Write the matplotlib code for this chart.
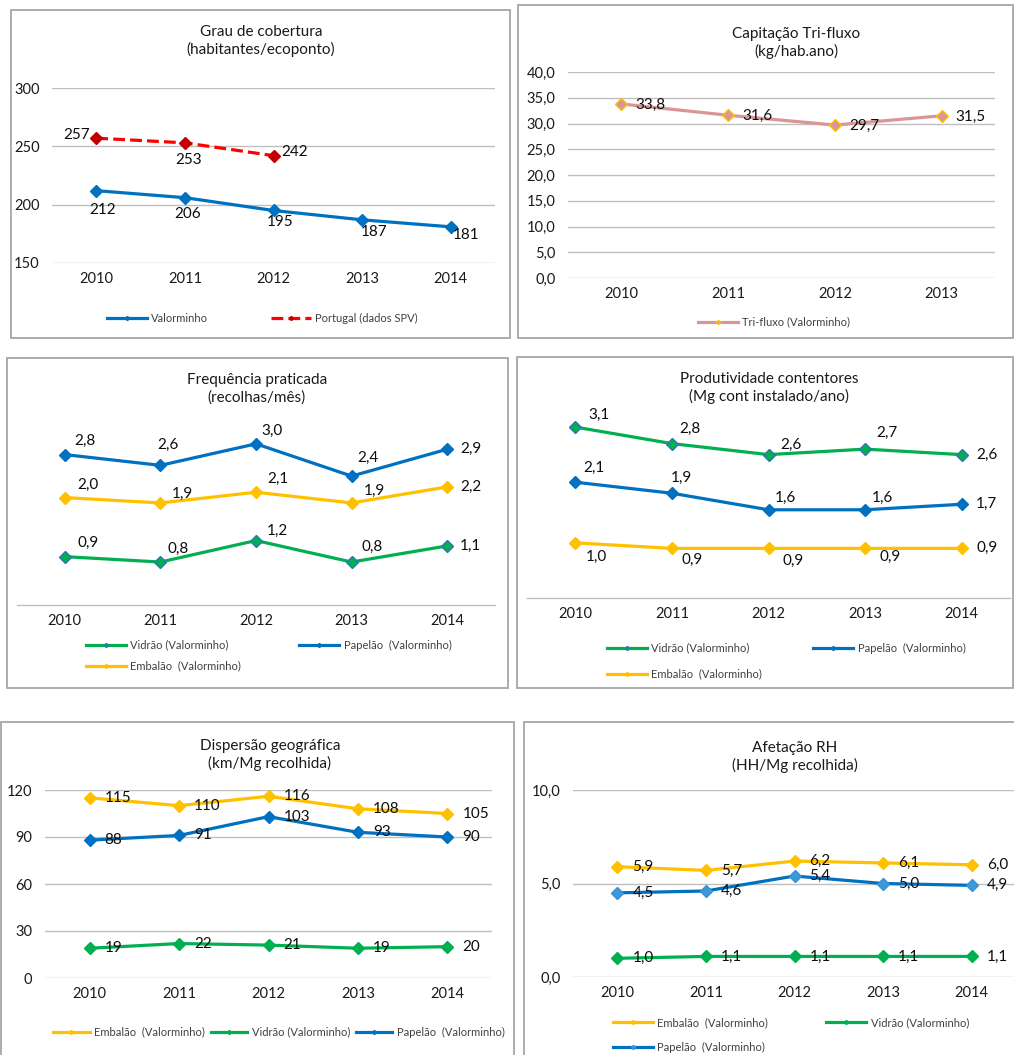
import matplotlib.pyplot as plt
from matplotlib.patches import Rectangle

plt.rcParams['font.family'] = ['Lato', 'DejaVu Sans']

# data
anos = ['2010', '2011', '2012', '2013', '2014']

cob_valorminho = [212, 206, 195, 187, 181]
cob_portugal = [257, 253, 242]

trifluxo = [33.8, 31.6, 29.7, 31.5]

freq_vidrao = [0.9, 0.8, 1.2, 0.8, 1.1]
freq_papelao = [2.8, 2.6, 3.0, 2.4, 2.9]
freq_embalao = [2.0, 1.9, 2.1, 1.9, 2.2]

prod_vidrao = [3.1, 2.8, 2.6, 2.7, 2.6]
prod_papelao = [2.1, 1.9, 1.6, 1.6, 1.7]
prod_embalao = [1.0, 0.9, 0.9, 0.9, 0.9]

disp_embalao = [115, 110, 116, 108, 105]
disp_papelao = [88, 91, 103, 93, 90]
disp_vidrao = [19, 22, 21, 19, 20]

rh_embalao = [5.9, 5.7, 6.2, 6.1, 6.0]
rh_papelao = [4.5, 4.6, 5.4, 5.0, 4.9]
rh_vidrao = [1.0, 1.1, 1.1, 1.1, 1.1]

# colours
AZUL = '#0070C0'
VERDE = '#00B050'
AMARELO = '#FFC000'
VERMELHO = '#FF0000'
ROSA = '#D99694'
GRELHA = '#BFBFBF'

W, H = 1014, 1055
fig = plt.figure(figsize=(W / 100, H / 100), dpi=100)


def eixos(left, top, right, bottom):
    return fig.add_axes([left / W, 1 - bottom / H, (right - left) / W, (bottom - top) / H])


def moldura(left, top, right, bottom):
    fig.add_artist(Rectangle((left / W, 1 - bottom / H), (right - left) / W, (bottom - top) / H,
                             transform=fig.transFigure, fill=False, ec='#A6A6A6', lw=1.3))


def titulo(x, y, txt):
    fig.text(x / W, 1 - y / H, txt, ha='center', va='center', fontsize=11,
             linespacing=1.3, color='#1A1A1A')


def estilo(ax, n, grelha=True):
    ax.set_xlim(-0.5, n - 0.5)
    ax.set_xticks(range(n))
    ax.set_xticklabels(anos[:n])
    for s in ax.spines.values():
        s.set_visible(False)
    ax.tick_params(length=0, labelsize=10.5, colors='#1A1A1A')
    ax.tick_params(axis='x', pad=6.5)
    ax.tick_params(axis='y', pad=9)
    if grelha:
        ax.yaxis.grid(True, color=GRELHA, lw=1)
        ax.set_axisbelow(True)
    else:
        ax.set_yticks([])
        ax.spines['bottom'].set_visible(True)
        ax.spines['bottom'].set_color(GRELHA)
        ax.spines['bottom'].set_linewidth(1)
    ax.patch.set_alpha(0)


def serie(ax, y, cor, nome, mfc=None, mec=None, ls='-'):
    ax.plot(range(len(y)), y, color=cor, lw=2.3, ls=ls, marker='D', ms=6,
            mfc=mfc or cor, mec=mec or cor, mew=1, label=nome, clip_on=False, zorder=3)


def rotulos(ax, y, offs, fmt, ha='center'):
    for i, v in enumerate(y):
        dx, dy = offs[i] if isinstance(offs, list) else offs
        ax.annotate(fmt(v), (i, v), xytext=(dx, -dy), textcoords='offset pixels',
                    ha=ha, va='center', fontsize=11, color='#0D0D0D', zorder=4)


def legenda(ax, x, y, ordem=None, ncol=1, colsp=2.0, labsp=0.5, hl=3.6):
    hs, ls = ax.get_legend_handles_labels()
    if ordem:
        hs = [hs[i] for i in ordem]
        ls = [ls[i] for i in ordem]
    leg = ax.legend(hs, ls, loc='center left', bbox_to_anchor=(x / W, 1 - y / H),
                    bbox_transform=fig.transFigure, ncol=ncol, frameon=False,
                    fontsize=8, handlelength=hl, handletextpad=0.4, markerscale=0.35,
                    columnspacing=colsp, labelspacing=labsp, borderpad=0, borderaxespad=0)
    for t in leg.get_texts():
        t.set_color('#404040')


dec = lambda v: f'{v:.1f}'.replace('.', ',')
inteiro = lambda v: f'{v:.0f}'

# panel borders
moldura(11, 10, 510, 338)
moldura(518, 5, 1013, 338)
moldura(7, 358, 508, 688)
moldura(517, 357, 1013, 688)
moldura(1, 722, 514, 1070)
moldura(524, 722, 1030, 1070)

# 1 - Grau de cobertura
ax1 = eixos(52, 88, 495, 263)
estilo(ax1, 5)
ax1.set_ylim(150, 300)
ax1.set_yticks([150, 200, 250, 300])
serie(ax1, cob_valorminho, AZUL, 'Valorminho')
serie(ax1, cob_portugal, VERMELHO, 'Portugal (dados SPV)', mfc='#C00000', mec='#C00000', ls='--')
rotulos(ax1, cob_valorminho, [(6, 19), (3, 16), (7, 12), (12, 12), (15, 8)], inteiro)
rotulos(ax1, cob_portugal, [(-20, -3), (4, 17), (21, -4)], inteiro)
titulo(261, 41, 'Grau de cobertura\n(habitantes/ecoponto)')
legenda(ax1, 107, 318, ncol=2, colsp=5.6)

# 2 - Capitacao Tri-fluxo
ax2 = eixos(568, 72, 995, 278)
estilo(ax2, 4)
ax2.set_ylim(0, 40)
ax2.set_yticks(range(0, 41, 5))
ax2.yaxis.set_major_formatter(lambda v, p: dec(v))
serie(ax2, trifluxo, ROSA, 'Tri-fluxo (Valorminho)', mfc=ROSA, mec=AMARELO)
rotulos(ax2, trifluxo, (14, 1), dec, ha='left')
titulo(796, 43, 'Capitação Tri-fluxo\n(kg/hab.ano)')
legenda(ax2, 698, 322)

# 3 - Frequencia praticada
ax3 = eixos(17, 417, 495, 605)
estilo(ax3, 5, grelha=False)
ax3.set_ylim(0, 3.5)
serie(ax3, freq_vidrao, VERDE, 'Vidrão (Valorminho)', mec='#2E75B6')
serie(ax3, freq_papelao, AZUL, 'Papelão  (Valorminho)')
serie(ax3, freq_embalao, AMARELO, 'Embalão  (Valorminho)')
rotulos(ax3, freq_papelao, [(20, -14), (8, -20), (16, -13), (16, -18), (24, 0)], dec)
rotulos(ax3, freq_embalao, [(23, -13), (22, -9), (22, -13), (23, -12), (24, 0)], dec)
rotulos(ax3, freq_vidrao, [(23, -14), (18, -13), (21, -10), (21, -15), (23, 0)], dec)
titulo(257, 389, 'Frequência praticada\n(recolhas/mês)')
legenda(ax3, 86, 655.5, ordem=[0, 2, 1], ncol=2, colsp=5.2, labsp=0.9)

# 4 - Produtividade contentores
ax4 = eixos(527, 405, 1010, 598)
estilo(ax4, 5, grelha=False)
ax4.set_ylim(0, 3.5)
serie(ax4, prod_vidrao, VERDE, 'Vidrão (Valorminho)', mec='#2E75B6')
serie(ax4, prod_papelao, AZUL, 'Papelão  (Valorminho)')
serie(ax4, prod_embalao, AMARELO, 'Embalão  (Valorminho)')
rotulos(ax4, prod_vidrao, [(24, -12), (18, -15), (22, -10), (22, -16), (25, 0)], dec)
rotulos(ax4, prod_papelao, [(19, -14), (10, -15), (17, -12), (17, -12), (25, 0)], dec)
rotulos(ax4, prod_embalao, [(21, 14), (20, 12), (25, 13), (25, 9), (25, 0)], dec)
titulo(769, 388, 'Produtividade contentores\n(Mg cont instalado/ano)')
legenda(ax4, 607, 661, ordem=[0, 2, 1], ncol=2, colsp=4.6, labsp=1.35)

# 5 - Dispersao geografica
ax5 = eixos(45, 790, 492, 978)
estilo(ax5, 5)
ax5.set_ylim(0, 120)
ax5.set_yticks(range(0, 121, 30))
serie(ax5, disp_embalao, AMARELO, 'Embalão  (Valorminho)')
serie(ax5, disp_vidrao, VERDE, 'Vidrão (Valorminho)')
serie(ax5, disp_papelao, AZUL, 'Papelão  (Valorminho)')
rotulos(ax5, disp_embalao, (15, 0), inteiro, ha='left')
rotulos(ax5, disp_papelao, (15, 0), inteiro, ha='left')
rotulos(ax5, disp_vidrao, (15, 0), inteiro, ha='left')
titulo(270, 755, 'Dispersão geográfica\n(km/Mg recolhida)')
legenda(ax5, 53, 1032, ncol=3, colsp=0.5, hl=3.3)

# 6 - Afetacao RH
ax6 = eixos(573, 790, 1016, 977)
estilo(ax6, 5)
ax6.set_ylim(0, 10)
ax6.set_yticks([0, 5, 10])
ax6.yaxis.set_major_formatter(lambda v, p: dec(v))
serie(ax6, rh_embalao, AMARELO, 'Embalão  (Valorminho)')
serie(ax6, rh_vidrao, VERDE, 'Vidrão (Valorminho)')
serie(ax6, rh_papelao, AZUL, 'Papelão  (Valorminho)', mfc='#3A9BDC', mec='#3C8FD0')
rotulos(ax6, rh_embalao, (15, 0), dec, ha='left')
rotulos(ax6, rh_papelao, (15, 0), dec, ha='left')
rotulos(ax6, rh_vidrao, (15, 0), dec, ha='left')
titulo(795, 757, 'Afetação RH\n(HH/Mg recolhida)')
legenda(ax6, 613, 1035, ordem=[0, 2, 1], ncol=2, colsp=5.2, labsp=1.2)

fig.savefig('out.png', dpi=100)
